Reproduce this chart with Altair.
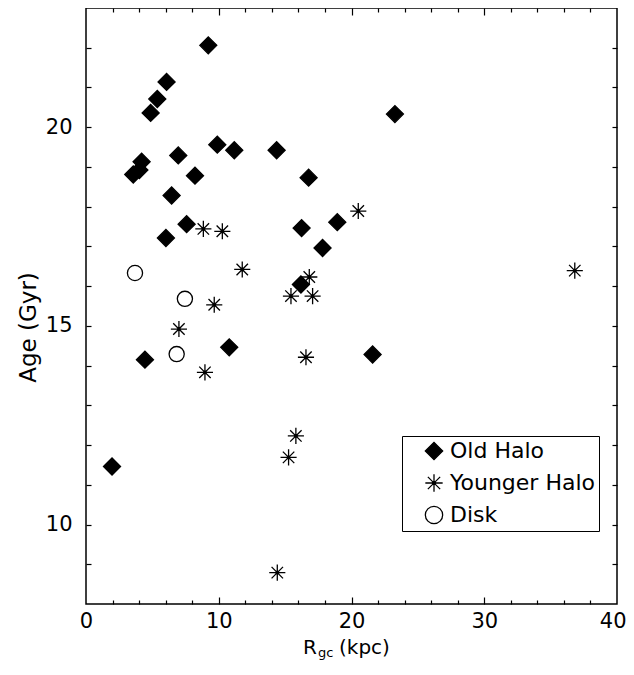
import altair as alt
import pandas as pd

# ---- data ----
types = ["Old Halo", "Younger Halo", "Disk"]

r_old = [9.21, 6.07, 5.37, 4.87, 23.27, 9.89, 11.17, 14.36, 6.95, 4.19, 4.02, 3.56, 8.21,
         16.77, 6.45, 7.58, 6.02, 16.24, 18.93, 17.82, 16.19, 4.44, 10.79, 21.59, 1.96]
age_old = [22.06, 21.14, 20.71, 20.36, 20.33, 19.56, 19.42, 19.42, 19.29, 19.13, 18.92, 18.81, 18.78,
           18.73, 18.28, 17.56, 17.21, 17.46, 17.61, 16.96, 16.04, 14.15, 14.46, 14.28, 11.46]

r_young = [8.84, 10.27, 20.51, 11.77, 16.82, 15.44, 17.07, 9.66, 36.82, 7.0, 8.96, 16.57, 15.81, 15.26, 14.41]
age_young = [17.44, 17.38, 17.89, 16.42, 16.23, 15.75, 15.75, 15.53, 16.39, 14.92, 13.83, 14.21, 12.23, 11.69, 8.79]

r_disk = [3.69, 7.45, 6.83]
age_disk = [16.33, 15.68, 14.29]

x_label_values = [0, 10, 20, 30]
x_last_label = [40]
y_label_values = [10, 15, 20]
x_major_ticks = [10, 20, 30]
x_minor_ticks = [2, 4, 6, 8, 12, 14, 16, 18, 22, 24, 26, 28, 32, 34, 36, 38]
y_ticks = [9, 10, 11, 12, 13, 14, 15, 16, 17, 18, 19, 20, 21, 22]

rows = []
for r, a in zip(r_old, age_old):
    rows.append({"R": r, "Age": a, "Type": "Old Halo"})
for r, a in zip(r_young, age_young):
    rows.append({"R": r, "Age": a, "Type": "Younger Halo"})
for r, a in zip(r_disk, age_disk):
    rows.append({"R": r, "Age": a, "Type": "Disk"})
df = pd.DataFrame(rows)

FONT = "DejaVu Sans"
ASTERISK = ("M-1,0L1,0M0,-1L0,1M-0.71,-0.71L0.71,0.71M-0.71,0.71L0.71,-0.71"
            "M-0.16,-0.16L0.16,-0.16L0.16,0.16L-0.16,0.16Z")

xs = alt.Scale(domain=[0, 40], nice=False, zero=False)
ys = alt.Scale(domain=[8, 23], nice=False, zero=False)

legend = alt.Legend(
    orient="none", legendX=316, legendY=428, title=None,
    strokeColor="black", fillColor="white", padding=4,
    labelFont=FONT, labelFontSize=22, labelColor="black", labelLimit=300,
    symbolStrokeColor="black", symbolStrokeWidth=1.3, symbolSize=300,
    rowPadding=8, symbolOffset=17, labelOffset=5,
)

label_axis_common = dict(ticks=False, domain=False, grid=False, labelFont=FONT, labelFontSize=21,
                         labelColor="black", labelOverlap=False, title=None)

points = alt.Chart(df).mark_point(strokeWidth=1.3, opacity=1, fillOpacity=1, strokeOpacity=1).encode(
    x=alt.X("R:Q", scale=xs, axis=alt.Axis(
        orient="bottom", values=x_label_values, labelPadding=6, labelFlush=False,
        **label_axis_common)),
    y=alt.Y("Age:Q", scale=ys, axis=alt.Axis(
        orient="left", values=y_label_values, ticks=False, domain=False, grid=False,
        labelFont=FONT, labelFontSize=21, labelColor="black", labelPadding=14,
        labelFlush=False, labelOverlap=False,
        title="Age (Gyr)", titleFont=FONT, titleFontSize=23, titleFontWeight="normal",
        titleColor="black", titleAngle=270, titleX=-58, titleY=319,
        titleAlign="center", titleBaseline="middle")),
    shape=alt.Shape("Type:N", scale=alt.Scale(domain=types, range=["diamond", ASTERISK, "circle"]), legend=legend),
    fill=alt.Fill("Type:N", scale=alt.Scale(domain=types, range=["black", "black", "white"]), legend=legend),
    stroke=alt.Stroke("Type:N", scale=alt.Scale(domain=types, range=["black", "black", "black"]), legend=legend),
    size=alt.Size("Type:N", scale=alt.Scale(domain=types[::-1], range=[230, 290, 420]), legend=None),
)


def tick_axis(orient, values, size):
    return alt.Axis(orient=orient, values=values, tickSize=size, offset=-size,
                    labels=False, domain=False, grid=False, title=None,
                    tickColor="black", tickWidth=1.2)


def tick_layer(xaxis, yaxis):
    return alt.Chart(df).mark_point(opacity=0, size=1).encode(
        x=alt.X("R:Q", scale=xs, axis=xaxis),
        y=alt.Y("Age:Q", scale=ys, axis=yaxis),
    )


t1 = tick_layer(tick_axis("bottom", x_major_ticks, 7), tick_axis("left", y_ticks, 5))
t2 = tick_layer(tick_axis("bottom", x_minor_ticks, 4), tick_axis("right", y_ticks, 5))
t3 = tick_layer(tick_axis("top", x_major_ticks, 7), None)
t4 = tick_layer(tick_axis("top", x_minor_ticks, 4), None)
# last x label, kept inside the page edge
t5 = tick_layer(alt.Axis(orient="bottom", values=x_last_label, labelPadding=6,
                         labelFlush=True, labelFlushOffset=9, **label_axis_common), None)

lab = pd.DataFrame({"a": [0]})
title_r = alt.Chart(lab).mark_text(text="R", font=FONT, fontSize=20, align="right",
                                   baseline="alphabetic", color="black").encode(
    x=alt.value(231), y=alt.value(646))
title_gc = alt.Chart(lab).mark_text(text="gc", font=FONT, fontSize=13, align="left",
                                    baseline="alphabetic", color="black").encode(
    x=alt.value(232), y=alt.value(648.5))
title_kpc = alt.Chart(lab).mark_text(text="(kpc)", font=FONT, fontSize=20, align="left",
                                     baseline="alphabetic", color="black").encode(
    x=alt.value(253), y=alt.value(646))

chart = alt.layer(t1, t2, t3, t4, t5, points, title_r, title_gc, title_kpc).resolve_axis(
    x="independent", y="independent"
).properties(
    width=531, height=596,
    autosize=alt.AutoSizeParams(type="none"),
    padding={"left": 78, "top": 0, "right": 9, "bottom": 56},
    background="white",
).configure_view(stroke="black", strokeWidth=1.5)

chart.save("out.html", embed_options={"renderer": "svg", "actions": False})
